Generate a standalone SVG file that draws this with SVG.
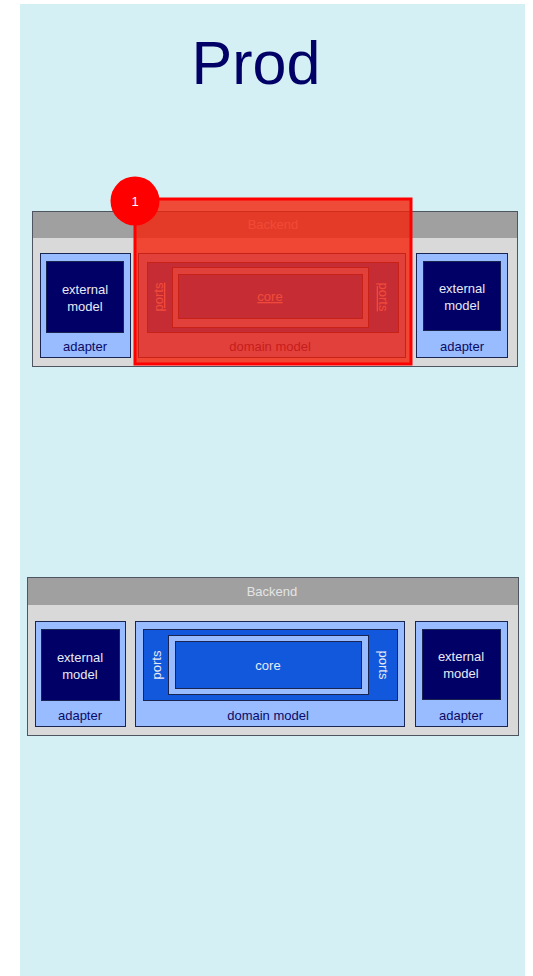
<svg xmlns="http://www.w3.org/2000/svg" width="533" height="976" viewBox="0 0 533 976">
<style>
text{font-family:"Liberation Sans",Arial,sans-serif;}
.outer{fill:#d9d9d9;stroke:#4d5560;stroke-width:1;}
.hdr{fill:#a0a0a0;}
.hdrt{fill:#e4e4e4;font-size:13px;text-anchor:middle;}
.lb{fill:#99bbff;stroke:#1a2450;stroke-width:1;}
.nv{fill:#000066;stroke:#1a2450;stroke-width:1;}
.bl{fill:#1158dd;stroke:#1a2450;stroke-width:1;}
.wt{fill:#e8eaf4;font-size:13px;text-anchor:middle;}
.dt{fill:#0a0a66;font-size:13px;text-anchor:middle;}
.ul{text-decoration:underline;}
</style>
<rect x="0" y="0" width="533" height="976" fill="#ffffff"/>
<rect x="20" y="4" width="505" height="972" fill="#d4f0f4"/>
<text x="256" y="84" font-size="61" fill="#000066" text-anchor="middle">Prod</text>

<g id="backend-top">
<rect class="outer" x="32.5" y="211.5" width="485" height="155"/>
<rect class="hdr" x="33" y="212" width="484" height="26"/>
<text class="hdrt" x="273" y="229">Backend</text>
</g>
<g id="adapter-top-left">
<rect class="lb" x="40.5" y="253.5" width="90" height="104"/>
<rect class="nv" x="46.5" y="261.5" width="77" height="71"/>
<text class="wt" x="85" y="294">external</text>
<text class="wt" x="85" y="311">model</text>
<text class="dt" x="85" y="351">adapter</text>
</g>
<g id="domain-top">
<rect class="lb" x="138.5" y="253.5" width="267" height="104"/>
<rect class="bl" x="147.5" y="262.5" width="251" height="70"/>
<rect class="lb" x="172.5" y="267.5" width="196" height="60"/>
<rect class="bl" x="178.5" y="274.5" width="184" height="44"/>
<text class="wt ul" x="270" y="301">core</text>
<text class="wt ul" transform="translate(163,297) rotate(-90)" x="0" y="0">ports</text>
<text class="wt ul" transform="translate(379,297) rotate(90)" x="0" y="0">ports</text>
<text class="dt" x="270" y="351">domain model</text>
</g>
<g id="adapter-top-right">
<rect class="lb" x="416.5" y="253.5" width="91" height="104"/>
<rect class="nv" x="423.5" y="261.5" width="77" height="69"/>
<text class="wt" x="462" y="293">external</text>
<text class="wt" x="462" y="310">model</text>
<text class="dt" x="462" y="351">adapter</text>
</g>
<g id="highlight">
<rect x="135" y="199" width="276" height="165" fill="#f4220a" fill-opacity="0.8" stroke="#ff0000" stroke-width="3"/>
<circle cx="135" cy="201" r="24.5" fill="#ff0000"/>
<text x="135" y="206" font-size="13" fill="#ffffff" text-anchor="middle">1</text>
</g>

<g id="backend-bottom">
<rect class="outer" x="27.5" y="577.5" width="491" height="158"/>
<rect class="hdr" x="28" y="578" width="490" height="27"/>
<text class="hdrt" x="272" y="596">Backend</text>
</g>
<g id="adapter-bottom-left">
<rect class="lb" x="35.5" y="621.5" width="90" height="105"/>
<rect class="nv" x="41.5" y="629.5" width="78" height="71"/>
<text class="wt" x="80" y="662">external</text>
<text class="wt" x="80" y="679">model</text>
<text class="dt" x="80" y="720">adapter</text>
</g>
<g id="domain-bottom">
<rect class="lb" x="135.5" y="621.5" width="269" height="105"/>
<rect class="bl" x="143.5" y="629.5" width="254" height="71"/>
<rect class="lb" x="168.5" y="635.5" width="200" height="59"/>
<rect class="bl" x="175.5" y="641.5" width="186" height="47"/>
<text class="wt" x="268" y="670">core</text>
<text class="wt" transform="translate(161,665) rotate(-90)" x="0" y="0">ports</text>
<text class="wt" transform="translate(379,665) rotate(90)" x="0" y="0">ports</text>
<text class="dt" x="268" y="720">domain model</text>
</g>
<g id="adapter-bottom-right">
<rect class="lb" x="415.5" y="621.5" width="92" height="105"/>
<rect class="nv" x="422.5" y="629.5" width="78" height="70"/>
<text class="wt" x="461" y="661">external</text>
<text class="wt" x="461" y="678">model</text>
<text class="dt" x="461" y="720">adapter</text>
</g>
<g id="connectors"></g>
</svg>
